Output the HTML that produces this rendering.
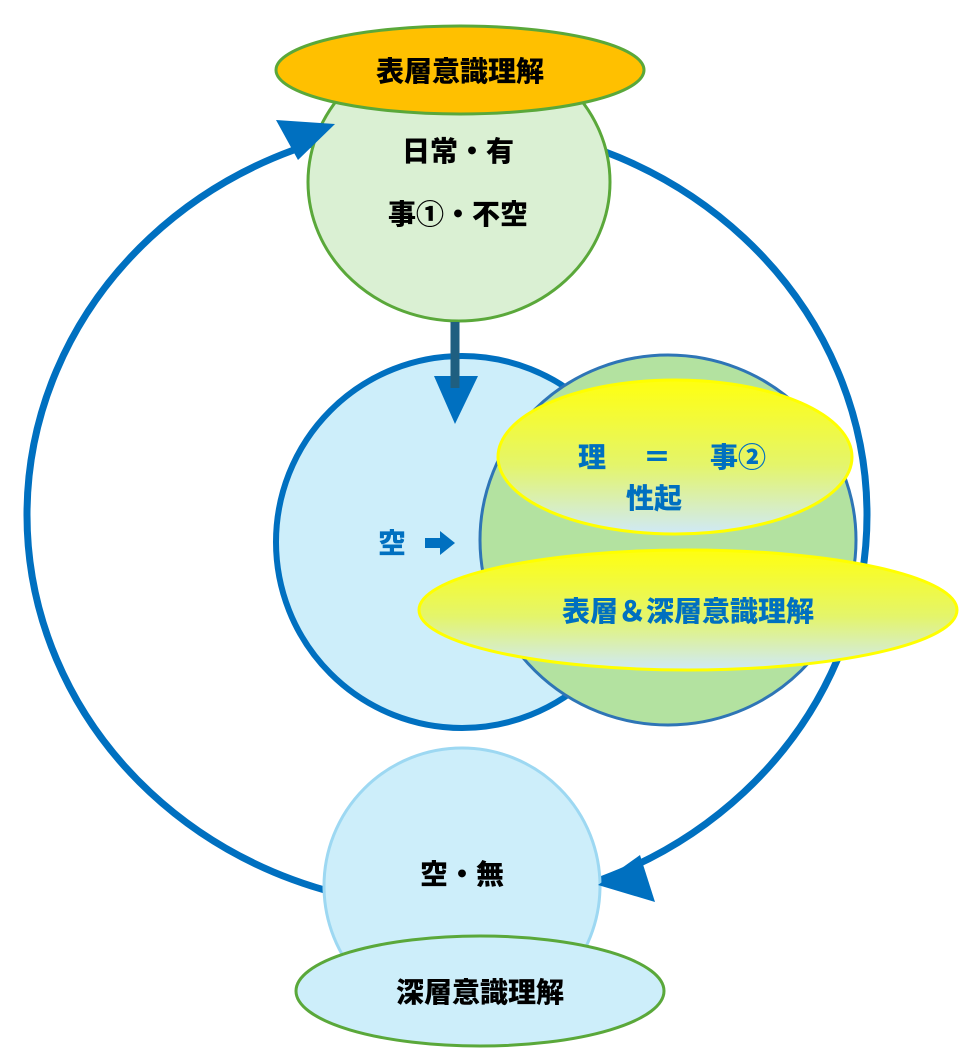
<!DOCTYPE html>
<html><head><meta charset="utf-8"><style>
html,body{margin:0;padding:0;background:#fff;}
svg{display:block;}
text{font-family:"Liberation Sans","Noto Sans CJK JP",sans-serif;font-weight:900;}
</style></head><body>
<svg width="979" height="1053" viewBox="0 0 979 1053" xmlns="http://www.w3.org/2000/svg">
<defs>
<linearGradient id="g1" x1="0" y1="0" x2="0" y2="1">
<stop offset="0" stop-color="#ffff10"/><stop offset="0.55" stop-color="#e4f56a"/><stop offset="1" stop-color="#cfe9f8"/>
</linearGradient>
</defs>
<ellipse cx="447" cy="515" rx="420" ry="392" fill="none" stroke="#0070c0" stroke-width="7"/>
<!-- top green circle -->
<ellipse cx="459" cy="182" rx="151" ry="139" fill="#daf0d3" stroke="#5aa83a" stroke-width="3"/>
<polygon points="335,124 276,120 298,160" fill="#0070c0"/>
<ellipse cx="460" cy="70" rx="184" ry="44" fill="#ffc000" stroke="#5aa83a" stroke-width="3"/>
<text x="460" y="81" font-size="28" text-anchor="middle" fill="#000">表層意識理解</text>
<text x="458" y="161" font-size="28" text-anchor="middle" fill="#000">日常・有</text>
<text x="458" y="224" font-size="28" text-anchor="middle" fill="#000">事①・不空</text>
<!-- middle circles -->
<circle cx="462" cy="542" r="186" fill="#cdeefa" stroke="#0070c0" stroke-width="6"/>
<polygon points="434,376 478,376 455,424" fill="#0070c0"/>
<line x1="455" y1="322" x2="455" y2="388" stroke="#1f5f80" stroke-width="9"/>
<ellipse cx="668" cy="540" rx="188" ry="185" fill="#b3e2a0" stroke="#2e75b6" stroke-width="3"/>
<ellipse cx="675" cy="457" rx="177" ry="77" fill="url(#g1)" stroke="#ffff00" stroke-width="3"/>
<ellipse cx="688" cy="610" rx="269" ry="60" fill="url(#g1)" stroke="#ffff00" stroke-width="3"/>
<text x="592" y="467" font-size="28" fill="#0070c0" text-anchor="middle">理</text>
<text x="657" y="467" font-size="28" fill="#0070c0" text-anchor="middle">＝</text>
<text x="738" y="467" font-size="28" fill="#0070c0" text-anchor="middle">事②</text>
<text x="654" y="508" font-size="28" fill="#0070c0" text-anchor="middle">性起</text>
<text x="688" y="621" font-size="28" fill="#0070c0" text-anchor="middle">表層＆深層意識理解</text>
<text x="392" y="553" font-size="28" fill="#0070c0" text-anchor="middle">空</text>
<polygon points="425,538 440,538 440,531 455,543 440,555 440,548 425,548" fill="#0070c0"/>
<!-- bottom -->
<circle cx="462" cy="886" r="138" fill="#cdeefa" stroke="#9dd8f2" stroke-width="3"/>
<polygon points="598,885 640,855 655,902" fill="#0070c0"/>
<text x="462" y="884" font-size="28" fill="#000" text-anchor="middle">空・無</text>
<ellipse cx="480" cy="991" rx="184" ry="55" fill="#cdeefa" stroke="#5aa83a" stroke-width="3"/>
<text x="480" y="1002" font-size="28" fill="#000" text-anchor="middle">深層意識理解</text>
</svg>
</body></html>
